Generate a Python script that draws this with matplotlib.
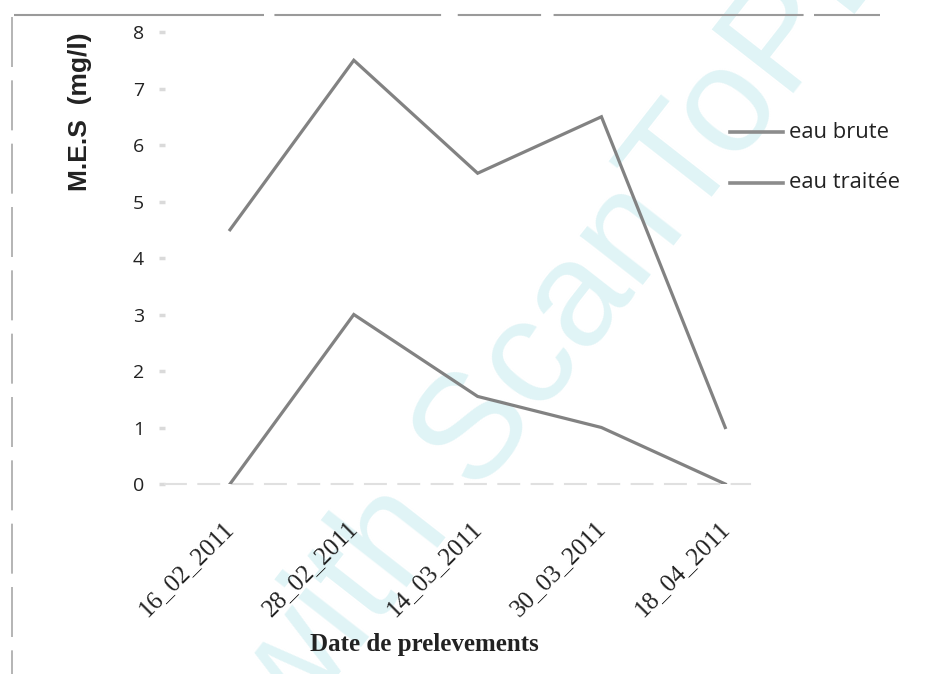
import matplotlib
matplotlib.use("Agg")
import matplotlib.pyplot as plt
from matplotlib.lines import Line2D
from matplotlib.transforms import ScaledTranslation

# Suspended matter (M.E.S) by sampling date
dates = ["16_02_2011", "28_02_2011", "14_03_2011", "30_03_2011", "18_04_2011"]
eau_brute = [4.5, 7.5, 5.5, 6.5, 1.0]
eau_traitee = [0.0, 3.0, 1.55, 1.0, 0.0]
y_ticks = [0, 1, 2, 3, 4, 5, 6, 7, 8]

W, H = 932, 674
fig = plt.figure(figsize=(W / 100, H / 100), dpi=100)
fig.patch.set_facecolor("white")

# Scanner watermark behind the chart
fig.text(0.643, 0.586, "with ScanToPDF", rotation=52, ha="center", va="center",
         fontsize=108, color="#e0f4f6", family="Liberation Sans", zorder=-1)

left, right = 165, 750
bottom, top = 484, 32
ax = fig.add_axes([left / W, 1 - bottom / H, (right - left) / W, (bottom - top) / H])
ax.patch.set_alpha(0)

x = list(range(len(dates)))
line_color = "#828282"
ax.plot(x, eau_brute, color=line_color, lw=2.3, solid_joinstyle="miter", zorder=3)
ax.plot(x, eau_traitee, color=line_color, lw=2.3, solid_joinstyle="miter", zorder=3)

ax.set_xlim(-0.525, 4.2)
ax.set_ylim(0, 8)
ax.set_yticks(y_ticks)
ax.set_yticklabels([str(v) for v in y_ticks], family="Open Sans", fontsize=14, color="#222222")
ax.tick_params(axis="y", length=4, width=2.5, color="#dadada", pad=11)
ax.set_xticks(x)
ax.tick_params(axis="x", length=0, pad=32)
ax.set_xticklabels(dates, rotation=45, ha="right", va="baseline", rotation_mode="anchor",
                   family="Liberation Serif", fontsize=18, color="#222222")
shift = ScaledTranslation(5 / 100, 0, fig.dpi_scale_trans)
for lbl in ax.get_xticklabels():
    lbl.set_transform(lbl.get_transform() + shift)

for s in ["top", "right", "left"]:
    ax.spines[s].set_visible(False)
ax.spines["bottom"].set_color("#e0e0e0")
ax.spines["bottom"].set_linewidth(1.5)
ax.spines["bottom"].set_linestyle((0, (10, 6)))

# Axis titles
fig.text(80 / W, 1 - 112 / H, "M.E.S  (mg/l)", rotation=90, ha="center", va="center",
         fontsize=19, fontweight="bold", family="Liberation Sans", color="#222222")
fig.text(424 / W, 1 - 645 / H, "Date de prelevements", ha="center", va="center",
         fontsize=18, fontweight="bold", family="Liberation Serif", color="#222222")

# Legend entries
for yy, name in [(132, "eau brute"), (183, "eau traitée")]:
    fig.add_artist(Line2D([730 / W, 783 / W], [1 - yy / H, 1 - yy / H],
                          transform=fig.transFigure, color="#8c8c8c", lw=2.6))
    fig.text(789 / W, 1 - yy / H, name, ha="left", va="center", fontsize=15.8,
             family="Open Sans", color="#222222")

# Chart area frame (dashed, as scanned)
fig.add_artist(Line2D([14 / W, 880 / W], [1 - 15 / H, 1 - 15 / H], transform=fig.transFigure,
                      color="#9a9a9a", lw=1.5, linestyle=(0, (120, 5, 80, 8, 40, 6))))
fig.add_artist(Line2D([12 / W, 12 / W], [1 - 17 / H, 0], transform=fig.transFigure,
                      color="#a8a8a8", lw=1.2, linestyle=(0, (30, 8))))

fig.savefig("out.png", dpi=100, facecolor="white")
